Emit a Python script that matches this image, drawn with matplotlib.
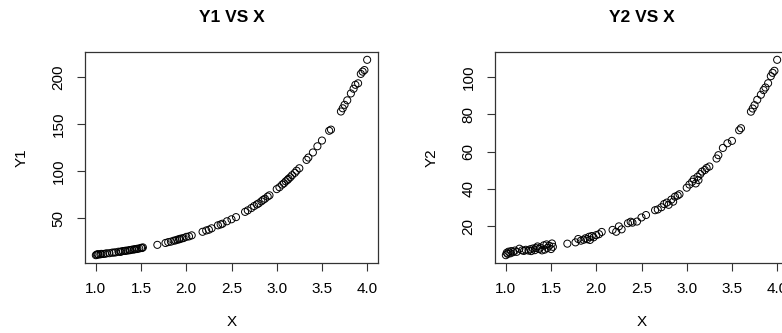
import matplotlib
matplotlib.use("Agg")
import matplotlib.pyplot as plt

x = [1.00, 1.01, 1.02, 1.03, 1.05, 1.06, 1.08, 1.10, 1.12, 1.15, 1.18, 1.20, 1.22, 1.25,
     1.27, 1.28, 1.30, 1.32, 1.33, 1.35, 1.37, 1.38, 1.40, 1.42, 1.43, 1.45, 1.46, 1.48,
     1.50, 1.51, 1.52,
     1.68, 1.77, 1.80, 1.83, 1.86, 1.88, 1.90, 1.92, 1.93, 1.95, 1.97, 2.00, 2.03, 2.06,
     2.18, 2.22, 2.25, 2.28, 2.35, 2.38, 2.40, 2.45, 2.50, 2.55,
     2.65, 2.68, 2.72, 2.75, 2.78, 2.80, 2.83, 2.85, 2.87, 2.90, 2.92,
     3.00, 3.03, 3.06, 3.08, 3.10, 3.12, 3.13, 3.15, 3.17, 3.20, 3.22, 3.25,
     3.33, 3.35, 3.40, 3.45, 3.50, 3.58, 3.60,
     3.71, 3.73, 3.75, 3.78, 3.82, 3.85, 3.87, 3.90, 3.93, 3.95, 3.97, 4.00]

y1 = [10.5, 11.0, 11.6, 11.2, 11.4, 11.9, 11.8, 12.0, 12.5, 12.6, 13.2, 13.3, 13.5, 14.2,
      14.0, 14.4, 14.9, 15.0, 15.3, 15.4, 15.8, 15.9, 16.4, 16.5, 16.9, 17.0, 17.4, 17.6,
      18.3, 18.1, 18.8,
      21.5, 23.5, 24.4, 24.9, 25.9, 26.2, 27.0, 27.3, 27.9, 28.3, 28.7, 30.0, 30.5, 31.6,
      35.4, 36.8, 37.6, 39.1, 42.3, 43.2, 44.0, 46.6, 48.7, 51.0,
      56.6, 58.2, 60.7, 62.8, 64.5, 65.6, 67.8, 69.4, 70.6, 72.9, 74.2,
      80.8, 82.8, 85.6, 87.0, 89.1, 90.6, 91.8, 93.4, 95.6, 98.1, 100.4, 103.0,
      111.9, 114.4, 119.8, 126.4, 132.5, 142.9, 144.1,
      163.4, 166.8, 170.5, 175.3, 182.6, 187.6, 191.8, 193.4, 203.4, 205.8, 207.5, 218.4]

y2 = [4.3, 5.6, 5.0, 6.2, 5.3, 6.5, 5.9, 6.8, 6.1, 7.8, 6.9, 6.6, 7.2, 6.8,
      7.5, 6.5, 7.9, 7.0, 8.1, 9.0, 7.6, 8.4, 6.9, 9.6, 7.3, 10.1, 8.2, 9.4,
      7.6, 10.6, 8.8,
      10.5, 11.2, 13.0, 12.1, 12.6, 13.4, 12.9, 14.2, 12.5, 14.6, 13.9, 15.1, 15.6, 16.8,
      17.9, 16.9, 19.8, 18.2, 21.5, 22.3, 21.8, 22.4, 24.6, 25.9,
      28.5, 28.9, 30.1, 31.8, 32.6, 31.4, 34.2, 33.1, 35.8, 36.4, 37.1,
      40.6, 42.3, 43.8, 45.2, 42.9, 46.5, 44.7, 47.9, 49.3, 50.1, 51.2, 52.0,
      56.3, 58.1, 62.0, 64.5, 65.8, 71.5, 72.6,
      81.5, 83.2, 85.0, 87.9, 90.6, 93.1, 94.5, 96.8, 100.6, 102.4, 103.5, 109.4]

xticks = [1.0, 1.5, 2.0, 2.5, 3.0, 3.5, 4.0]
y1ticks = [50, 100, 150, 200]
y2ticks = [20, 40, 60, 80, 100]
titles = ["Y1 VS X", "Y2 VS X"]
ylabels = ["Y1", "Y2"]

plt.rcParams['font.family'] = ['Liberation Sans', 'DejaVu Sans']

W, H = 782, 333
fig = plt.figure(figsize=(W / 100, H / 100), dpi=100)

axw, axh = 293, 211
lefts = [85, 495]
bottom = 70

for i, (yy, yt) in enumerate([(y1, y1ticks), (y2, y2ticks)]):
    ax = fig.add_axes([lefts[i] / W, bottom / H, axw / W, axh / H])
    ax.scatter(x, yy, s=26, facecolors='none', edgecolors='black', linewidths=0.7)
    ax.margins(0.04)
    ax.set_xticks(xticks)
    ax.set_xticklabels([f"{t:.1f}" for t in xticks])
    ax.set_yticks(yt)
    ax.set_yticklabels([str(t) for t in yt], rotation=90, va='center')
    ax.tick_params(axis='both', length=6, width=0.8, color='#333333',
                   labelsize=11, pad=8)
    for sp in ax.spines.values():
        sp.set_linewidth(0.9)
        sp.set_color('#333333')
    ax.text(0.5, 1 + 34 / axh, titles[i], transform=ax.transAxes, ha='center',
            va='center', fontsize=12.5, fontweight='bold')
    ax.set_xlabel("X", fontsize=11)
    ax.xaxis.set_label_coords(0.5, -59 / axh)
    ax.xaxis.label.set_va('center')
    ax.set_ylabel(ylabels[i], fontsize=11)
    ax.yaxis.set_label_coords(-63 / axw, 0.5)
    ax.yaxis.label.set_va('center')

fig.savefig("out.png", dpi=100)
